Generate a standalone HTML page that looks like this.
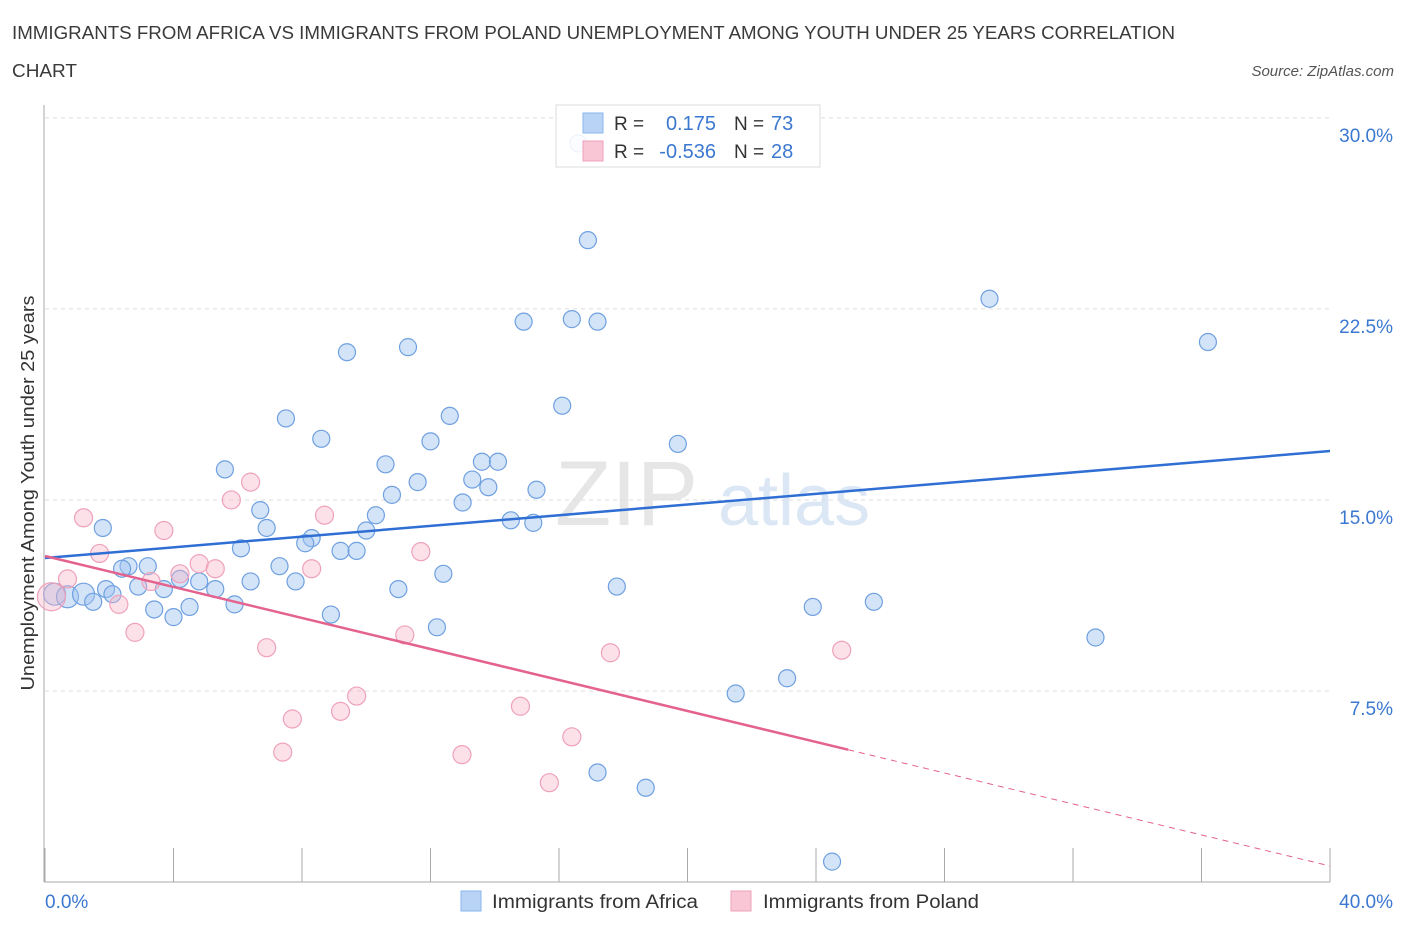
<!DOCTYPE html>
<html><head><meta charset="utf-8">
<style>
body{margin:0;background:#fff;font-family:"Liberation Sans",sans-serif;}
svg text{font-family:"Liberation Sans",sans-serif;}
</style></head>
<body>
<svg id="chart" width="1406" height="930" xmlns="http://www.w3.org/2000/svg">
<text x="12" y="39" font-size="18" fill="#3a3a3a" textLength="1163" lengthAdjust="spacingAndGlyphs">IMMIGRANTS FROM AFRICA VS IMMIGRANTS FROM POLAND UNEMPLOYMENT AMONG YOUTH UNDER 25 YEARS CORRELATION</text>
<text x="12" y="77" font-size="18" fill="#3a3a3a" textLength="65" lengthAdjust="spacingAndGlyphs">CHART</text>
<text x="1394" y="76" font-size="15" font-style="italic" fill="#555" text-anchor="end">Source: ZipAtlas.com</text>
<text x="555" y="525" font-size="92" font-family="Liberation Serif" fill="#e6e6e6">ZIP</text>
<text x="718" y="525" font-size="72" fill="#dce7f5">atlas</text>
<g id="grid"></g>
<g id="axes"></g>
<g id="marks"></g>
<text transform="translate(34,493) rotate(-90)" font-size="18" fill="#333" text-anchor="middle" textLength="395" lengthAdjust="spacingAndGlyphs">Unemployment Among Youth under 25 years</text>
<g>
<rect x="556" y="105" width="264" height="62" fill="#fff" fill-opacity="0.88" stroke="#ddd"/>
<rect x="583" y="113" width="20" height="20" fill="#b9d3f6" stroke="#8ab4ec"/>
<rect x="583" y="141" width="20" height="20" fill="#f9c6d6" stroke="#eea1bb"/>
<text x="614" y="130" font-size="19" fill="#333">R =</text>
<text x="716" y="130" font-size="20" fill="#3b78d0" text-anchor="end">0.175</text>
<text x="734" y="130" font-size="19" fill="#333">N =</text>
<text x="771" y="130" font-size="20" fill="#3b78d0">73</text>
<text x="614" y="158" font-size="19" fill="#333">R =</text>
<text x="716" y="158" font-size="20" fill="#3b78d0" text-anchor="end">-0.536</text>
<text x="734" y="158" font-size="19" fill="#333">N =</text>
<text x="771" y="158" font-size="20" fill="#3b78d0">28</text>
</g>
<g>
<rect x="461" y="891" width="20" height="20" fill="#b9d3f6" stroke="#8ab4ec"/>
<text x="492" y="908" font-size="19" fill="#333" textLength="206" lengthAdjust="spacingAndGlyphs">Immigrants from Africa</text>
<rect x="731" y="891" width="20" height="20" fill="#f9c6d6" stroke="#eea1bb"/>
<text x="763" y="908" font-size="19" fill="#333" textLength="216" lengthAdjust="spacingAndGlyphs">Immigrants from Poland</text>
</g>
</svg>
<script>
const xTicksPct=[0,40];
const yTicks=[7.5,15,22.5,30];
const yTickLabels=["7.5%","15.0%","22.5%","30.0%"];
const africaX=[16.6,16.9,29.4,36.2,14.9,16.4,17.2,9.4,11.3,16.1,12.6,7.5,8.6,12.0,19.7,5.6,10.6,13.6,14.1,11.6,13.3,13.8,15.3,10.8,13.0,6.7,1.8,6.9,10.3,14.5,15.2,10.0,8.3,8.1,6.1,9.2,9.7,2.6,3.2,2.4,7.3,12.4,4.2,4.8,6.4,7.8,17.8,11.0,2.9,3.7,5.3,1.9,2.1,0.3,0.7,1.2,1.5,3.4,4.5,5.9,23.9,25.8,8.9,4.0,12.2,32.7,23.1,21.5,17.2,18.7,24.5];
const africaY=[29.0,25.2,22.9,21.2,22.0,22.1,22.0,20.8,21.0,18.7,18.3,18.2,17.4,17.3,17.2,16.2,16.4,16.5,16.5,15.7,15.8,15.5,15.4,15.2,14.9,14.6,13.9,13.9,14.4,14.2,14.1,13.8,13.5,13.3,13.1,13.0,13.0,12.4,12.4,12.3,12.4,12.1,11.9,11.8,11.8,11.8,11.6,11.5,11.6,11.5,11.5,11.5,11.3,11.3,11.2,11.3,11.0,10.7,10.8,10.9,10.8,11.0,10.5,10.4,10.0,9.6,8.0,7.4,4.3,3.7,0.8];
const polandX=[0.2,1.2,3.7,5.8,6.4,8.7,1.7,3.3,4.2,4.8,5.3,0.7,2.3,2.8,11.7,8.3,6.9,11.2,17.6,24.8,9.7,9.2,7.7,14.8,7.4,12.98,16.4,15.7];
const polandY=[11.2,14.3,13.8,15.0,15.7,14.4,12.9,11.8,12.1,12.5,12.3,11.9,10.9,9.8,12.97,12.3,9.2,9.7,9.0,9.1,7.3,6.7,6.4,6.9,5.1,5.0,5.7,3.9];
const polandR=[14,9,9,9,9,9,9,9,9,9,9,9,9,9,9,9,9,9,9,9,9,9,9,9,9,9,9,9];
const africaTrend=[12.72,16.92];
const polandTrend=[12.8,0.63];
const polandSolidEnd=25;

const NS="http://www.w3.org/2000/svg";
const X=v=>45+v*32.125;
const Y=v=>882-v*25.47;
function mk(tag,attrs,parent){const e=document.createElementNS(NS,tag);for(const k in attrs)e.setAttribute(k,attrs[k]);parent.appendChild(e);return e;}
const grid=document.getElementById('grid'),axes=document.getElementById('axes'),marks=document.getElementById('marks');
yTicks.forEach((t,i)=>{
 const l=mk('line',{x1:45,x2:1330,y1:Y(t),y2:Y(t),stroke:'#ddd','stroke-dasharray':'4,4'},grid);
 
 
 const tx=mk('text',{x:1393,y:Y(t)+24,'font-size':19,fill:'#3b78d0','text-anchor':'end'},axes);
 tx.textContent=yTickLabels[i];
 
 
});
const ax=mk('line',{x1:44,x2:44,y1:105,y2:882,stroke:'#aaa'},axes);


const bx=mk('line',{x1:44,x2:1330,y1:882,y2:882,stroke:'#aaa'},axes);


for(let i=0;i<=10;i++){
 const t=mk('line',{x1:X(i*4),x2:X(i*4),y1:848,y2:882,stroke:'#aaa'},axes);
 
 
}
xTicksPct.forEach((v,i)=>{
 const t=mk('text',{x:i==0?45:1393,y:908,'font-size':19,fill:'#3b78d0','text-anchor':i==0?'start':'end'},axes);
 t.textContent=v.toFixed(1)+'%';
 
 
});
africaX.forEach((v,i)=>{
 const c=mk('circle',{cx:X(v),cy:Y(africaY[i]),r:i>=53&&i<=55?11:8.5,fill:'rgba(160,196,240,0.45)',stroke:'#6fa0e0','stroke-width':1.2},marks);
 
 
});
polandX.forEach((v,i)=>{
 const c=mk('circle',{cx:X(v),cy:Y(polandY[i]),r:polandR[i],fill:'rgba(248,180,200,0.4)',stroke:'#eea1bb','stroke-width':1.2},marks);
 
 
});
const bl=mk('line',{x1:X(0),y1:Y(africaTrend[0]),x2:X(40),y2:Y(africaTrend[1]),stroke:'#2f6fd4','stroke-width':2.5},marks);


const pAt=x=>polandTrend[0]+(polandTrend[1]-polandTrend[0])*x/40;
const pl=mk('line',{x1:X(0),y1:Y(pAt(0)),x2:X(polandSolidEnd),y2:Y(pAt(polandSolidEnd)),stroke:'#e4628e','stroke-width':2.5},marks);


const pd=mk('line',{x1:X(polandSolidEnd),y1:Y(pAt(polandSolidEnd)),x2:X(40),y2:Y(pAt(40)),stroke:'#e4628e','stroke-width':1,'stroke-dasharray':'6,5'},marks);


</script>
</body></html>
